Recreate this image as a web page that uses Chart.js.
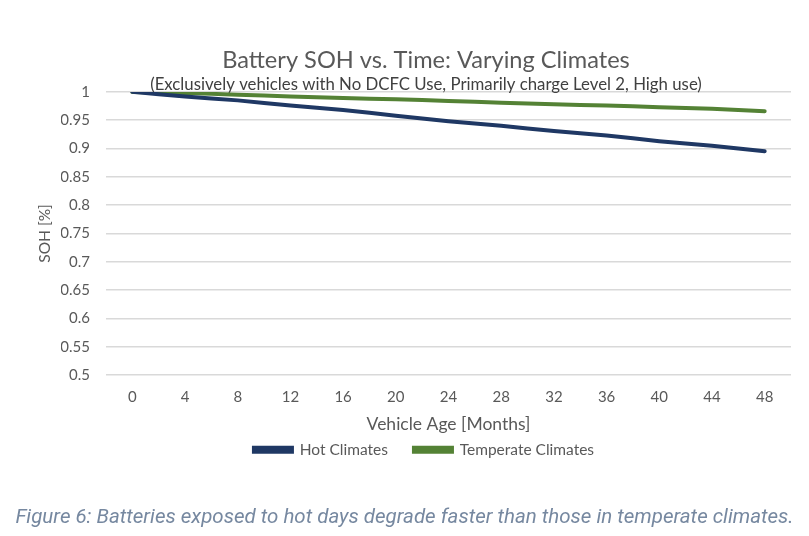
<!DOCTYPE html>
<html>
<head>
<meta charset="utf-8">
<script src="https://cdn.jsdelivr.net/npm/chart.js@4.4.1/dist/chart.umd.min.js"></script>
<style>
  html, body { margin: 0; padding: 0; background: #fff; }
  #wrap { position: relative; width: 809px; height: 536px; }
  #caption {
    position: absolute; left: 0; top: 504px; width: 809px; text-align: center;
    font-family: Roboto, sans-serif; font-style: italic; font-size: 20.5px; color: #7688a0;
  }
</style>
</head>
<body>
<div id="wrap">
  <canvas id="c" width="809" height="536"></canvas>
  <div id="caption">Figure 6: Batteries exposed to hot days degrade faster than those in temperate climates.</div>
</div>
<script>
  const months = ['0','4','8','12','16','20','24','28','32','36','40','44','48'];
  const hotClimates = [1, 0.992, 0.985, 0.976, 0.968, 0.958, 0.948, 0.940, 0.931, 0.923, 0.913, 0.905, 0.895];
  const temperateClimates = [1, 0.998, 0.995, 0.992, 0.989, 0.987, 0.984, 0.981, 0.978, 0.976, 0.973, 0.970, 0.966];

  const grey = '#595959';
  const fontFam = 'Lato, "Open Sans", sans-serif';

  // the original legend sits a bit left of the title centre
  const legendShift = {
    id: 'legendShift',
    afterLayout(chart) {
      chart.legend.left -= 2;
      chart.legend.right -= 2;
    }
  };

  new Chart(document.getElementById('c'), {
    type: 'line',
    data: {
      labels: months,
      datasets: [
        { label: 'Hot Climates', data: hotClimates, borderColor: '#1f3864', backgroundColor: '#1f3864',
          borderWidth: 4, pointRadius: 0, tension: 0.1, borderCapStyle: 'round' },
        { label: 'Temperate Climates', data: temperateClimates, borderColor: '#548235', backgroundColor: '#548235',
          borderWidth: 4, pointRadius: 0, tension: 0.1, borderCapStyle: 'round' }
      ]
    },
    plugins: [legendShift],
    options: {
      responsive: false,
      animation: false,
      layout: { padding: { top: 0, right: 18, bottom: 68.5, left: 61 } },
      plugins: {
        title: { display: true, text: 'Battery SOH vs. Time: Varying Climates', color: grey,
          font: { family: fontFam, size: 23.6, weight: 'normal' }, padding: { top: 46, bottom: 0 } },
        subtitle: { display: true, text: '(Exclusively vehicles with No DCFC Use, Primarily charge Level 2, High use)', color: '#404040',
          font: { family: fontFam, size: 16.8 }, padding: { top: 0, bottom: -2.6 } },
        legend: { position: 'bottom',
          labels: { color: grey, font: { family: fontFam, size: 15.5 }, boxWidth: 38, boxHeight: 4, padding: 26 } },
        tooltip: { enabled: false }
      },
      scales: {
        x: {
          offset: true,
          grid: { display: false, drawTicks: false },
          border: { display: false },
          ticks: { color: grey, font: { family: fontFam, size: 15 }, padding: 13, maxRotation: 0 },
          title: { display: true, text: 'Vehicle Age [Months]', color: grey,
            font: { family: fontFam, size: 17.5 }, padding: { top: -5.5, bottom: -18.5 } }
        },
        y: {
          min: 0.5, max: 1,
          afterFit: s => { s.width = 45; },
          grid: { color: '#d9d9d9', lineWidth: 1.5, drawTicks: false },
          border: { display: false },
          ticks: { stepSize: 0.05, color: grey, font: { family: fontFam, size: 15 }, padding: 16,
            callback: v => String(+v.toFixed(2)) },
          title: { display: true, text: 'SOH [%]', color: grey,
            font: { family: fontFam, size: 15.5 }, padding: { top: -25, bottom: 0 } }
        }
      }
    }
  });
</script>
</body>
</html>
